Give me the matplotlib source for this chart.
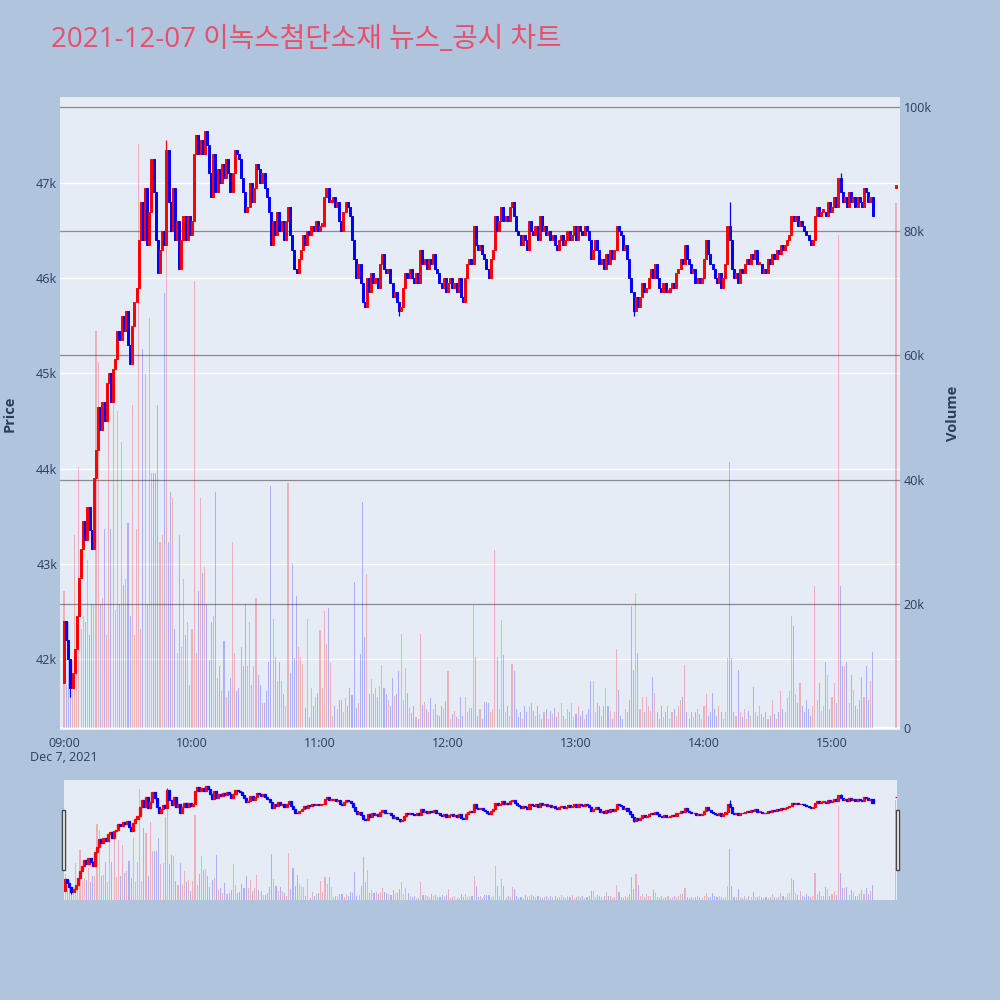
import numpy as np
import matplotlib
matplotlib.use("Agg")
import matplotlib.pyplot as plt
from matplotlib.patches import Rectangle
from matplotlib.transforms import blended_transform_factory

plt.rcParams['font.family'] = ['Open Sans', 'Noto Sans CJK KR', 'DejaVu Sans']

# ---------------- data ----------------
title_text = "2021-12-07 이녹스첨단소재 뉴스_공시 차트"
date_label = "Dec 7, 2021"

first_open = 41750  # open of the 09:00 candle

# one close per minute from 09:00 (index 0) to 15:19 (index 379)
close = [
    42400, 42200, 42000, 41700, 41850, 42100, 42450, 42850, 43150, 43450,
    43250, 43600, 43350, 43150, 43900, 44200, 44650, 44400, 44700, 44500,
    44900, 45000, 44700, 45050, 45150, 45450, 45350, 45600, 45450, 45650,
    45300, 45100, 45500, 45750, 45900, 46400, 46800, 46400, 46950, 46350,
    46700, 47250, 46900, 46400, 46050, 46300, 46500, 46350, 47350, 46800,
    46500, 46950, 46400, 46600, 46100, 46400, 46650, 46400, 46650, 46450,
    46600, 47300, 47500, 47300, 47450, 47300, 47550, 47400, 47100, 46850,
    47300, 46900, 47150, 47000, 47200, 47050, 47250, 47100, 46900, 47100,
    47350, 47300, 47250, 47050, 46900, 46700, 46750, 47000, 46800, 46950,
    47200, 47150, 47000, 47100, 46950, 46850, 46700, 46350, 46600, 46450,
    46700, 46500, 46600, 46400, 46600, 46750, 46450, 46300, 46100, 46050,
    46200, 46300, 46450, 46350, 46500, 46450, 46550, 46500, 46600, 46500,
    46550, 46550, 46850, 46950, 46800, 46800, 46850, 46750, 46800, 46600,
    46500, 46700, 46800, 46750, 46650, 46400, 46200, 46000, 46150, 45950,
    45750, 45700, 46000, 45850, 46050, 45950, 46000, 45900, 46150, 46250,
    46100, 46050, 46100, 45950, 45800, 45850, 45750, 45650, 45700, 45900,
    46050, 46000, 46100, 46000, 45950, 46050, 45950, 46300, 46150, 46200,
    46100, 46200, 46150, 46250, 46100, 46050, 45950, 45900, 46000, 45850,
    45950, 46000, 45900, 45950, 45850, 46000, 45800, 45750, 46000, 46150,
    46200, 46150, 46550, 46350, 46300, 46350, 46250, 46200, 46100, 46000,
    46200, 46300, 46650, 46500, 46600, 46750, 46600, 46650, 46600, 46750,
    46800, 46650, 46500, 46450, 46350, 46450, 46400, 46300, 46600, 46500,
    46450, 46550, 46400, 46650, 46500, 46550, 46450, 46500, 46400, 46450,
    46350, 46300, 46400, 46450, 46350, 46400, 46500, 46400, 46450, 46550,
    46400, 46550, 46500, 46450, 46550, 46500, 46400, 46200, 46300, 46400,
    46300, 46150, 46200, 46100, 46250, 46150, 46300, 46200, 46300, 46550,
    46500, 46450, 46300, 46350, 46200, 46000, 45850, 45650, 45800, 45700,
    45800, 45950, 45850, 45900, 46000, 46100, 46000, 46150, 46000, 45900,
    45850, 45950, 45850, 45850, 45900, 45950, 45900, 46050, 46100, 46200,
    46150, 46350, 46200, 46150, 46050, 46100, 45950, 46000, 45950, 46000,
    46200, 46400, 46250, 46150, 46100, 46000, 45950, 46050, 45900, 46000,
    46150, 46550, 46400, 46100, 46000, 46050, 45950, 46100, 46050, 46150,
    46200, 46150, 46250, 46200, 46300, 46150, 46150, 46050, 46100, 46050,
    46200, 46150, 46250, 46200, 46300, 46250, 46350, 46300, 46350, 46400,
    46450, 46650, 46600, 46650, 46550, 46600, 46550, 46500, 46450, 46400,
    46350, 46400, 46650, 46750, 46650, 46700, 46700, 46650, 46800, 46700,
    46750, 46850, 46750, 47050, 46900, 46800, 46850, 46750, 46900, 46800,
    46850, 46750, 46850, 46800, 46750, 46950, 46900, 46800, 46850, 46650,
]

# volume per minute, in thousands of shares
volume_k = [
    22, 7, 17, 5, 11, 31, 14, 42, 16, 18,
    17, 27, 15, 20, 20, 64, 59, 20, 21, 32,
    15, 50, 32, 52, 19, 51, 20, 46, 23, 24,
    33, 18, 52, 15, 32, 94, 16, 61, 57, 20,
    66, 41, 41, 41, 52, 30, 31, 70, 94, 30,
    38, 37, 16, 12, 31, 13, 24, 15, 17, 7,
    16, 72, 12, 22, 37, 25, 26, 20, 11, 17,
    18, 38, 8, 10, 6, 14, 5, 6, 8, 30,
    12, 6, 6.5, 13, 10, 20, 10, 17, 7, 10,
    21, 8.5, 7, 4, 4, 6, 10.6, 39, 17.5, 11.5,
    7.5, 10.6, 7.5, 5.5, 3.5, 39.4, 8.8, 26.6, 11.2, 21.3,
    13, 11.5, 10.3, 3.3, 17.5, 1.8, 6.5, 3.5, 5, 5.7,
    15.8, 6.5, 18.8, 13.6, 19.3, 10.4, 2, 3.5, 3, 4.5,
    4.5, 2.5, 4.8, 3.5, 6.5, 5.3, 23.5, 3.3, 4, 11.9,
    36.4, 14.6, 24.8, 5.4, 7.9, 5.5, 6.5, 5, 6.7, 10.1,
    6.5, 5.5, 4.5, 3.6, 8, 5.2, 5.5, 9.2, 15.2, 4.5,
    9.6, 5.6, 3.2, 2.4, 3.5, 1.8, 1.5, 15.2, 3.7, 4.2,
    3, 2.5, 4.8, 3, 3.8, 2.1, 2, 3.6, 3.2, 4.3,
    9.2, 1.5, 2.3, 2.8, 1.8, 1.5, 5, 2, 5, 2.5,
    3.3, 3.3, 19.8, 11.5, 2, 3, 1.5, 4.2, 4.2, 4,
    2.5, 3, 28.7, 11.5, 3, 17.4, 11.8, 2.5, 3.5, 2,
    10.3, 9.1, 3, 1.8, 2.5, 1.5, 3.6, 2.5, 3.5, 4,
    2.8, 2, 3.5, 2.2, 1.5, 2.5, 3, 1.5, 2.8, 2.2,
    3.2, 1.8, 2.5, 4, 2, 1.5, 3, 2.5, 4, 1.8,
    2.2, 3.5, 2, 2.8, 1.5, 2.2, 3, 7.6, 7.6, 2.5,
    4, 3.5, 2, 3.5, 6.4, 3.5, 2.8, 1.5, 2.5, 12.7,
    6.1, 2, 1.5, 3, 2.5, 4.5, 19.6, 9.3, 21.8, 12,
    3, 5, 2.5, 5, 3.5, 2.8, 8.2, 5.7, 2.5, 1.5,
    3.5, 1.8, 2.5, 3.5, 1.5, 2.5, 3, 2, 3.5, 4.5,
    5, 10.1, 2.5, 1.5, 2.5, 1.8, 2.5, 3, 2.2, 1.5,
    3.5, 5.5, 2, 2.5, 5.7, 3, 2, 3.5, 2.5, 1.5,
    2.5, 11.3, 42.8, 11.3, 2.5, 2, 9.3, 2.5, 1.8, 3,
    1.5, 2.8, 2, 6.6, 2.5, 2, 3.5, 2.2, 1.8, 2.5,
    1.5, 2, 4.5, 2.2, 1.5, 2.5, 5.9, 3, 2.5, 4.8,
    6, 18, 16.5, 5.5, 4, 7.2, 3.5, 2.5, 4.5, 3,
    2, 3.5, 22.8, 4.5, 7.2, 2.8, 3.5, 10.6, 8.6, 3,
    5, 7.2, 4, 79.4, 22.8, 10, 10, 10.6, 4, 8.5,
    6.1, 3.5, 3, 4.5, 8.2, 5, 10, 4.5, 7.6, 12.2,
]

# closing auction (15:30)
auction_minute = 390
auction_price = 46950
auction_volume_k = 84.5

# notable wicks (minute index -> price)
wick_high = {48: 47450, 312: 46800, 364: 47100}
wick_low = {3: 41600, 157: 45600, 267: 45600}

xtick_minutes = [0, 60, 120, 180, 240, 300, 360]
xtick_labels = ["09:00", "10:00", "11:00", "12:00", "13:00", "14:00", "15:00"]
price_ticks = [42000, 43000, 44000, 45000, 46000, 47000]
price_labels = ["42k", "43k", "44k", "45k", "46k", "47k"]
volume_ticks = [0, 20000, 40000, 60000, 80000, 100000]
volume_labels = ["0", "20k", "40k", "60k", "80k", "100k"]

# ---------------- derived arrays ----------------
n = len(close)
minutes = np.append(np.arange(n), auction_minute).astype(float)
c = np.array(close + [auction_price], dtype=float)
o = np.array([first_open] + close[:-1] + [auction_price], dtype=float)
v = np.array(volume_k + [auction_volume_k], dtype=float) * 1000
hi = np.maximum(o, c)
lo = np.minimum(o, c)
for k, val in wick_high.items():
    hi[k] = val
for k, val in wick_low.items():
    lo[k] = val
up = c >= o

RED = "#ff0000"
BLUE = "#0000ff"
VRED = (1.0, 0.0, 0.0, 0.25)
VBLUE = (0.0, 0.0, 1.0, 0.25)
BG = "#e5ecf6"
FIG_BG = "#b0c4de"
TXT = "#2a3f5f"

fig = plt.figure(figsize=(10, 10), dpi=100, facecolor=FIG_BG)

price_lim = (41254, 47903)
vol_lim = (-322, 101610)


def draw_panel(ax_v, ax_p, body_w, vol_w, edge_lw, gridlines=True):
    ax_v.set_facecolor(BG)
    ax_p.patch.set_visible(False)
    for a in (ax_v, ax_p):
        for s in a.spines.values():
            s.set_visible(False)
    ax_p.set_ylim(*price_lim)
    ax_v.set_ylim(*vol_lim)
    if gridlines:
        tr = blended_transform_factory(ax_v.transAxes, ax_p.transData)
        for pt in price_ticks:
            ax_v.plot([0, 1], [pt, pt], transform=tr, color="white", lw=1.0, zorder=0.5)
        for vt in volume_ticks:
            if vt == 0:
                ax_v.axhline(vt, color="white", lw=1.6, zorder=0.6)
            else:
                ax_v.axhline(vt, color="#8c8c8c", lw=0.9, zorder=0.6)
    vcols = [VRED if u else VBLUE for u in up]
    ax_v.bar(minutes, v, width=vol_w, color=vcols, linewidth=0, zorder=1)
    ccols = [RED if u else BLUE for u in up]
    ax_p.vlines(minutes, lo, hi, colors=ccols, lw=0.9, zorder=2)
    heights = np.maximum(np.abs(c - o), 25)
    ax_p.bar(minutes, heights, bottom=np.minimum(o, c), width=body_w,
             color=ccols, edgecolor=ccols, linewidth=edge_lw, zorder=3)


# ---------------- main panel ----------------
ax_v = fig.add_axes([0.060, 0.270, 0.840, 0.633])
ax_p = ax_v.twinx()
draw_panel(ax_v, ax_p, body_w=0.95, vol_w=0.5, edge_lw=0.7)
ax_v.set_xlim(-1.875, 391.875)

ax_p.yaxis.tick_left()
ax_p.set_yticks(price_ticks)
ax_p.set_yticklabels(price_labels)
ax_p.tick_params(axis="y", length=0, pad=2, labelsize=9, colors=TXT)
ax_v.yaxis.tick_right()
ax_v.set_yticks(volume_ticks)
ax_v.set_yticklabels(volume_labels)
ax_v.tick_params(axis="y", length=0, pad=2.5, labelsize=9, colors=TXT)
ax_v.set_xticks(xtick_minutes)
ax_v.set_xticklabels(xtick_labels)
ax_v.tick_params(axis="x", length=0, pad=5, labelsize=9, colors=TXT)
ax_p.tick_params(axis="x", length=0)

fig.text(0.064, 1 - 0.7575, date_label, ha="center", va="center", fontsize=9, color=TXT)
fig.text(0.0095, 1 - 0.4135, "Price", rotation=90, ha="center", va="center",
         fontsize=10.5, fontweight="bold", color=TXT)
fig.text(0.953, 1 - 0.4135, "Volume", rotation=90, ha="center", va="center",
         fontsize=10.5, fontweight="bold", color=TXT)
fig.text(0.051, 1 - 0.040, title_text, ha="left", va="center", fontsize=20,
         color="#e8506a")

# ---------------- range slider ----------------
ax_sv = fig.add_axes([0.064, 0.100, 0.833, 0.120])
ax_sp = ax_sv.twinx()
draw_panel(ax_sv, ax_sp, body_w=0.95, vol_w=0.5, edge_lw=0.9, gridlines=False)
ax_sv.set_xlim(-0.5, 390.5)
for a in (ax_sv, ax_sp):
    a.set_xticks([])
    a.set_yticks([])

for hx in (0.0615, 0.8955):
    fig.patches.append(Rectangle((hx, 1 - 0.870), 0.0035, 0.060, transform=fig.transFigure,
                                 facecolor="white", edgecolor="#444444", lw=1.0, zorder=10))

fig.savefig("out.png", dpi=100, facecolor=FIG_BG)
